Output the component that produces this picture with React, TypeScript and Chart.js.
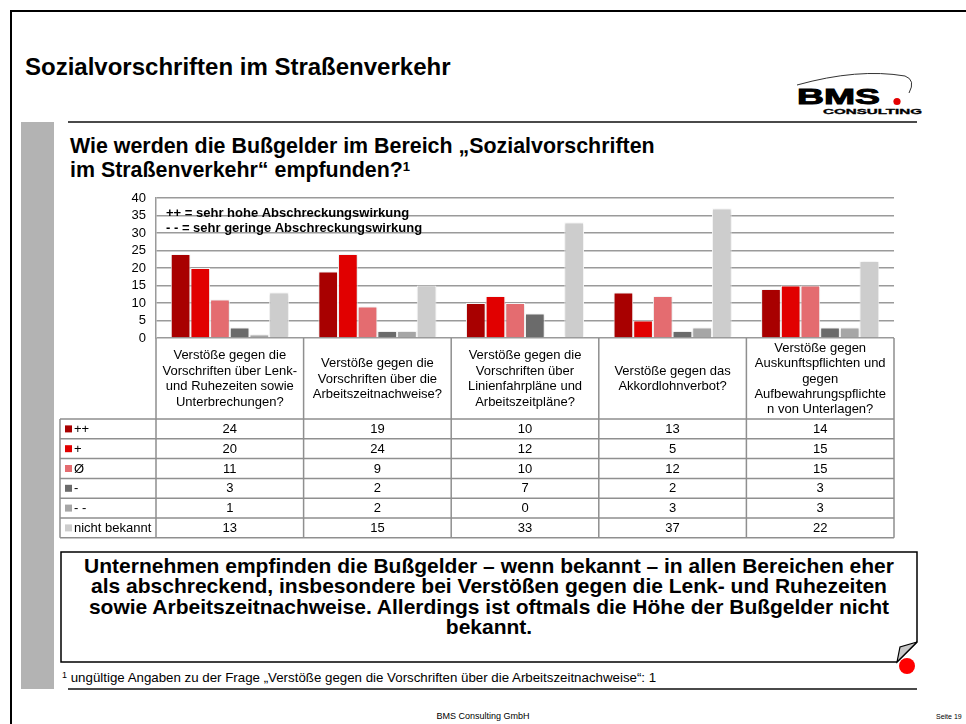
import React, { useEffect, useRef } from "react";
import { Chart, registerables } from "chart.js";

Chart.register(...registerables);

const FONT = "'Liberation Sans', Arial, Helvetica, sans-serif";

const categories: string[][] = [
  ["Verstöße gegen die", "Vorschriften über Lenk-", "und Ruhezeiten sowie", "Unterbrechungen?"],
  ["Verstöße gegen die", "Vorschriften über die", "Arbeitszeitnachweise?"],
  ["Verstöße gegen die", "Vorschriften über", "Linienfahrpläne und", "Arbeitszeitpläne?"],
  ["Verstöße gegen das", "Akkordlohnverbot?"],
  ["Verstöße gegen", "Auskunftspflichten und", "gegen", "Aufbewahrungspflichte", "n von Unterlagen?"],
];

const seriesLabels = ["++", "+", "Ø", "-", "- -", "nicht bekannt"];
const valuesPlusPlus = [24, 19, 10, 13, 14];
const valuesPlus = [20, 24, 12, 5, 15];
const valuesNeutral = [11, 9, 10, 12, 15];
const valuesMinus = [3, 2, 7, 2, 3];
const valuesMinusMinus = [1, 2, 0, 3, 3];
const valuesUnknown = [13, 15, 33, 37, 22];
const seriesColors = ["#A80000", "#E10000", "#E46C70", "#6B6B6B", "#A6A6A6", "#CDCDCD"];

const yMin = 0;
const yMax = 40;
const yStep = 5;

const legendNotes = ["++ = sehr hohe Abschreckungswirkung", "- - = sehr geringe Abschreckungswirkung"];

const seriesValues = [valuesPlusPlus, valuesPlus, valuesNeutral, valuesMinus, valuesMinusMinus, valuesUnknown];

// table layout
const HEADER_H = 81;
const ROW_H = 19.8;
const TABLE_LEFT = 60;
const LINE_COLOR = "#8f8f8f";

const tablePlugin = {
  id: "dataTable",
  afterDraw(chart: any) {
    const ctx = chart.ctx as CanvasRenderingContext2D;
    const area = chart.chartArea;
    const xs = chart.scales.x;
    const n = chart.data.labels.length;
    const bounds: number[] = [area.left];
    for (let i = 0; i < n - 1; i++) {
      bounds.push((xs.getPixelForValue(i) + xs.getPixelForValue(i + 1)) / 2);
    }
    bounds.push(area.right);
    const headTop = area.bottom;
    const headBottom = headTop + HEADER_H;
    const datasets = chart.data.datasets;
    const tableBottom = headBottom + ROW_H * datasets.length;

    ctx.save();
    ctx.strokeStyle = LINE_COLOR;
    ctx.lineWidth = 1.5;
    ctx.beginPath();
    for (let i = 0; i < bounds.length; i++) {
      ctx.moveTo(bounds[i], headTop);
      ctx.lineTo(bounds[i], tableBottom);
    }
    ctx.moveTo(TABLE_LEFT, headBottom);
    ctx.lineTo(TABLE_LEFT, tableBottom);
    for (let r = 0; r <= datasets.length; r++) {
      const y = headBottom + r * ROW_H;
      ctx.moveTo(TABLE_LEFT, y);
      ctx.lineTo(area.right, y);
    }
    ctx.stroke();

    ctx.fillStyle = "#000";
    ctx.font = `13px ${FONT}`;
    ctx.textAlign = "center";
    ctx.textBaseline = "middle";
    const lh = 15.4;
    chart.data.labels.forEach((lines: string[], i: number) => {
      const cx = xs.getPixelForValue(i);
      const midY = (headTop + headBottom) / 2;
      const startY = midY - ((lines.length - 1) * lh) / 2;
      lines.forEach((t, k) => ctx.fillText(t, cx, startY + k * lh + 0.5));
    });

    datasets.forEach((ds: any, r: number) => {
      const cy = headBottom + r * ROW_H + ROW_H / 2;
      ctx.fillStyle = ds.backgroundColor;
      ctx.fillRect(TABLE_LEFT + 5, cy - 3.5, 7, 7);
      ctx.fillStyle = "#000";
      ctx.textAlign = "left";
      ctx.fillText(ds.label, TABLE_LEFT + 14, cy + 0.5);
      ctx.textAlign = "center";
      ds.data.forEach((v: number, i: number) => {
        ctx.fillText(String(v), xs.getPixelForValue(i), cy + 0.5);
      });
    });
    ctx.restore();
  },
};

const notesPlugin = {
  id: "notes",
  afterDraw(chart: any) {
    const ctx = chart.ctx as CanvasRenderingContext2D;
    const area = chart.chartArea;
    const ys = chart.scales.y;
    ctx.save();
    ctx.fillStyle = "#000";
    ctx.font = `bold 13px ${FONT}`;
    ctx.textAlign = "left";
    ctx.textBaseline = "alphabetic";
    ctx.fillText(legendNotes[0], area.left + 10, ys.getPixelForValue(35) + 1);
    ctx.fillText(legendNotes[1], area.left + 10, ys.getPixelForValue(30) - 1);
    ctx.restore();
  },
};

const shadowPlugin = {
  id: "barShadow",
  beforeDatasetsDraw(chart: any) {
    const ctx = chart.ctx as CanvasRenderingContext2D;
    ctx.save();
    ctx.shadowColor = "rgba(0,0,0,0.18)";
    ctx.shadowBlur = 3;
  },
  afterDatasetsDraw(chart: any) {
    chart.ctx.restore();
  },
};

function ChartCanvas() {
  const ref = useRef<HTMLCanvasElement | null>(null);
  useEffect(() => {
    if (!ref.current) return;
    const chart = new Chart(ref.current, {
      type: "bar",
      data: {
        labels: categories as any,
        datasets: seriesLabels.map((label, i) => ({
          label,
          data: seriesValues[i],
          backgroundColor: seriesColors[i],
          borderColor: "#ffffff",
          borderWidth: 1,
          barPercentage: 1,
          categoryPercentage: 0.8,
        })),
      },
      options: {
        responsive: false,
        animation: false,
        devicePixelRatio: 1,
        layout: { padding: { left: 116, right: 72, top: 198, bottom: 386 } },
        plugins: { legend: { display: false }, tooltip: { enabled: false } },
        scales: {
          x: {
            grid: { display: false },
            border: { display: false },
            ticks: { display: false },
            afterFit: (s: any) => {
              s.height = 0;
              s.paddingLeft = 0;
              s.paddingRight = 0;
            },
          },
          y: {
            min: yMin,
            max: yMax,
            ticks: {
              stepSize: yStep,
              autoSkip: false,
              color: "#000",
              font: { family: FONT, size: 13 },
              padding: 10,
            },
            grid: { color: "#9a9a9a", lineWidth: 1.5, drawTicks: false },
            border: { display: true, color: "#9a9a9a", width: 1.5 },
            afterFit: (s: any) => {
              s.width = 40;
              s.paddingTop = 0;
              s.paddingBottom = 0;
            },
          },
        },
      },
      plugins: [shadowPlugin, tablePlugin, notesPlugin],
    });
    return () => chart.destroy();
  }, []);
  return (
    <canvas
      ref={ref}
      width={966}
      height={724}
      style={{ position: "absolute", left: 0, top: 0, width: 966, height: 724 }}
    />
  );
}

export default function App() {
  return (
    <div
      style={{
        position: "absolute",
        left: 0,
        top: 0,
        width: 966,
        height: 724,
        overflow: "hidden",
        background: "#fff",
        fontFamily: FONT,
        color: "#000",
      }}
    >
      <svg width={966} height={724} style={{ position: "absolute", left: 0, top: 0 }}>
        <line x1={10} y1={11} x2={966} y2={11} stroke="#000" strokeWidth={2} />
        <line x1={11} y1={10} x2={11} y2={724} stroke="#000" strokeWidth={2} />
        <rect x={21} y={122} width={33} height={567} fill="#b3b3b3" />
        <line x1={68} y1={122} x2={917} y2={122} stroke="#4a4a4a" strokeWidth={2} />
        <line x1={68} y1={689} x2={917} y2={689} stroke="#4a4a4a" strokeWidth={2} />
        <path d="M797,85 Q858,68 905,76 Q916,80 909,93" fill="none" stroke="#333" strokeWidth={1} />
        <text
          x={797}
          y={104}
          fontFamily={FONT}
          fontWeight="bold"
          fontSize={22}
          textLength={83}
          lengthAdjust="spacingAndGlyphs"
          fill="#000"
          stroke="#000"
          strokeWidth={0.9}
        >
          BMS
        </text>
        <circle cx={897} cy={101.5} r={3.6} fill="#e30000" />
        <text
          x={823}
          y={113.5}
          fontFamily={FONT}
          fontWeight="bold"
          fontSize={7.5}
          textLength={99}
          lengthAdjust="spacingAndGlyphs"
          fill="#000"
          stroke="#000"
          strokeWidth={0.3}
        >
          CONSULTING
        </text>
        <path d="M61,552 H917 V642 L897,662 H61 Z" fill="#fff" stroke="#000" strokeWidth={1.5} />
        <path d="M897,662 L900,647 L917,642 Z" fill="#c8c8c8" stroke="#000" strokeWidth={1.2} />
        <circle cx={907} cy={666} r={8} fill="#ff0000" />
      </svg>

      <div
        style={{
          position: "absolute",
          left: 25,
          top: 55,
          fontSize: 24,
          lineHeight: "24px",
          fontWeight: "bold",
          whiteSpace: "nowrap",
        }}
      >
        Sozialvorschriften im Straßenverkehr
      </div>

      <div
        style={{
          position: "absolute",
          left: 70,
          top: 134,
          fontSize: 21.4,
          lineHeight: "24px",
          fontWeight: "bold",
          whiteSpace: "nowrap",
        }}
      >
        Wie werden die Bußgelder im Bereich „Sozialvorschriften
        <br />
        im Straßenverkehr“ empfunden?
        <sup style={{ fontSize: 13, verticalAlign: "top", lineHeight: "18px" }}>1</sup>
      </div>

      <div
        style={{
          position: "absolute",
          left: 61,
          top: 555.5,
          width: 856,
          fontSize: 21,
          lineHeight: "20.5px",
          fontWeight: "bold",
          textAlign: "center",
          whiteSpace: "nowrap",
        }}
      >
        Unternehmen empfinden die Bußgelder – wenn bekannt – in allen Bereichen eher
        <br />
        als abschreckend, insbesondere bei Verstößen gegen die Lenk- und Ruhezeiten
        <br />
        sowie Arbeitszeitnachweise. Allerdings ist oftmals die Höhe der Bußgelder nicht
        <br />
        bekannt.
      </div>

      <div
        style={{
          position: "absolute",
          left: 62,
          top: 670,
          fontSize: 13.3,
          lineHeight: "16px",
          whiteSpace: "nowrap",
        }}
      >
        <sup style={{ fontSize: 9, verticalAlign: "top", lineHeight: "10px" }}>1</sup> ungültige Angaben zu der Frage
        „Verstöße gegen die Vorschriften über die Arbeitszeitnachweise“: 1
      </div>

      <div
        style={{
          position: "absolute",
          left: 0,
          width: 966,
          top: 711,
          fontSize: 9,
          lineHeight: "11px",
          textAlign: "center",
        }}
      >
        BMS Consulting GmbH
      </div>
      <div
        style={{ position: "absolute", left: 936, top: 712, fontSize: 7, lineHeight: "9px", whiteSpace: "nowrap" }}
      >
        Seite 19
      </div>

      <ChartCanvas />
    </div>
  );
}
